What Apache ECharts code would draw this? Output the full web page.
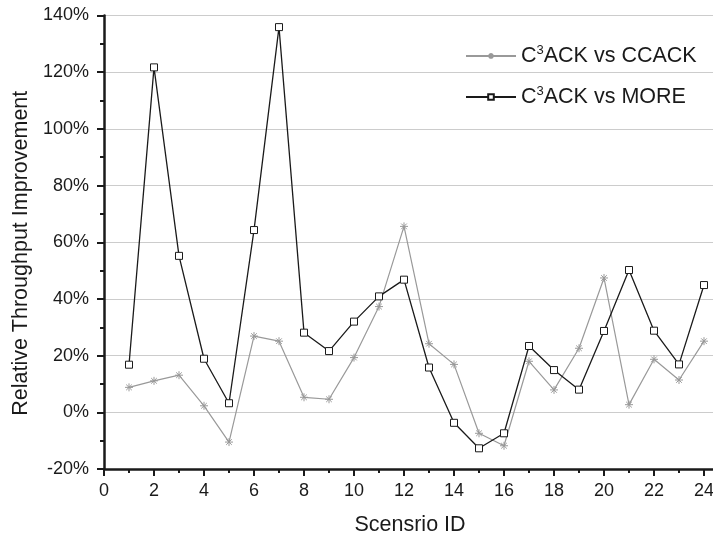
<!DOCTYPE html>
<html>
<head>
<meta charset="utf-8">
<script src="https://cdn.jsdelivr.net/npm/echarts@6/dist/echarts.min.js"></script>
<style>html,body{margin:0;padding:0;background:#fff;}#chart{width:713px;height:540px;}</style>
</head>
<body>
<div id="chart"></div>
<script>
const scenarios = [1,2,3,4,5,6,7,8,9,10,11,12,13,14,15,16,17,18,19,20,21,22,23,24];
const vsCCACK = [8.8,11.1,13.1,2.3,-10.5,26.9,25.1,5.3,4.6,19.3,37.3,65.6,24.2,16.9,-7.4,-11.8,18.0,7.9,22.6,47.4,2.7,18.7,11.4,25.1];
const vsMORE = [16.8,121.7,55.2,18.9,3.2,64.3,135.9,28.1,21.6,32.0,40.9,46.8,15.8,-3.7,-12.7,-7.4,23.4,14.9,8.0,28.7,50.2,28.8,16.9,44.9];
const seriesNames = ['C3ACK vs CCACK', 'C3ACK vs MORE'];
const legendLabels = {'C3ACK vs CCACK': ['C','3','ACK vs CCACK'], 'C3ACK vs MORE': ['C','3','ACK vs MORE']};
const xTicks = {min: 0, max: 25, interval: 2};
const yTicks = {min: -20, max: 140, interval: 20};

const FONT = 'Liberation Sans, Arial, sans-serif';
const chart = echarts.init(document.getElementById('chart'), null, {renderer: 'canvas'});
const asterisk = 'path://M5,0L5,10M0,5L10,5M1.5,1.5L8.5,8.5M1.5,8.5L8.5,1.5';

chart.setOption({
  animation: false,
  backgroundColor: '#fff',
  textStyle: {fontFamily: FONT},
  grid: {left: 104, top: 15.5, bottom: 71, right: -16, containLabel: false, outerBoundsMode: 'none'},
  legend: {
    orient: 'vertical', left: 460, top: 39, itemWidth: 50, itemHeight: 7, itemGap: 18,
    data: seriesNames,
    formatter: n => '{n|' + legendLabels[n][0] + '}{s|' + legendLabels[n][1] + '}{n|' + legendLabels[n][2] + '}',
    textStyle: {
      fontFamily: FONT, color: '#1a1a1a',
      rich: {
        n: {fontSize: 21.5, fontFamily: FONT, color: '#1a1a1a', lineHeight: 24},
        s: {fontSize: 13, fontFamily: FONT, color: '#1a1a1a', verticalAlign: 'top', lineHeight: 24, padding: [0,0,10,0]}
      }
    }
  },
  xAxis: {
    type: 'value', min: xTicks.min, max: xTicks.max, interval: xTicks.interval,
    name: 'Scensrio ID', nameLocation: 'middle', nameGap: 45,
    nameTextStyle: {fontSize: 21.5, color: '#1a1a1a', fontFamily: FONT, padding: [0, 13, 0, 0]},
    axisLine: {show: true, onZero: false, lineStyle: {color: '#1a1a1a', width: 2.5}},
    axisTick: {show: true, length: 7, lineStyle: {color: '#1a1a1a', width: 2}},
    minorTick: {show: true, splitNumber: 2, length: 4, lineStyle: {color: '#1a1a1a', width: 2}},
    axisLabel: {fontSize: 18, color: '#1a1a1a', margin: 13, fontFamily: FONT},
    splitLine: {show: false}
  },
  yAxis: {
    type: 'value', min: yTicks.min, max: yTicks.max, interval: yTicks.interval,
    name: 'Relative Throughput Improvement', nameLocation: 'middle', nameGap: 70,
    nameTextStyle: {fontSize: 21.5, color: '#1a1a1a', fontFamily: FONT, padding: [0, 22, 0, 0]},
    axisLine: {show: true, onZero: false, lineStyle: {color: '#1a1a1a', width: 2.5}},
    axisTick: {show: true, length: 7, lineStyle: {color: '#1a1a1a', width: 2}},
    minorTick: {show: true, splitNumber: 2, length: 4, lineStyle: {color: '#1a1a1a', width: 2}},
    axisLabel: {fontSize: 18, color: '#1a1a1a', margin: 15, fontFamily: FONT, formatter: '{value}%'},
    splitLine: {show: true, lineStyle: {color: '#cccccc', width: 1}}
  },
  series: [
    {
      name: seriesNames[0], type: 'line',
      data: scenarios.map((s, i) => [s, vsCCACK[i]]),
      symbol: asterisk, symbolSize: 8,
      lineStyle: {color: '#999999', width: 1.2},
      itemStyle: {color: '#999999', borderColor: '#999999', borderWidth: 1},
      z: 2
    },
    {
      name: seriesNames[1], type: 'line',
      data: scenarios.map((s, i) => [s, vsMORE[i]]),
      symbol: 'rect', symbolSize: 7,
      lineStyle: {color: '#1a1a1a', width: 1.3},
      itemStyle: {color: '#ffffff', borderColor: '#1a1a1a', borderWidth: 1},
      z: 3
    }
  ]
});
</script>
</body>
</html>
